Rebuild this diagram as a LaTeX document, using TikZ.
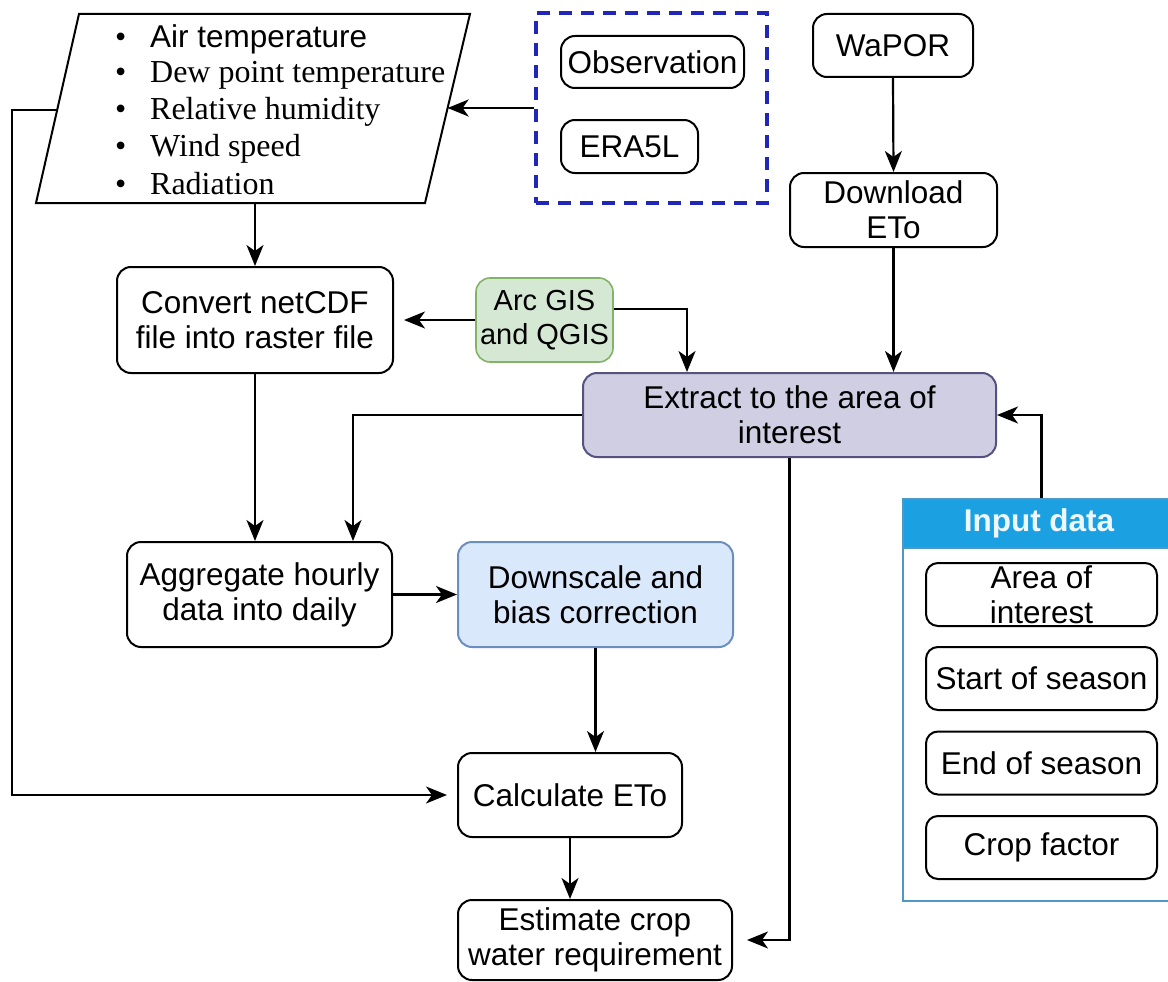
\documentclass[tikz,border=0pt]{standalone}
\usepackage{fontspec}
\setmainfont{Liberation Sans}
\newfontfamily\listserif{Liberation Serif}
\usetikzlibrary{arrows.meta,calc}

\definecolor{gisfill}{HTML}{D5E8D4}
\definecolor{gisdraw}{HTML}{82B366}
\definecolor{extfill}{HTML}{D0CEE2}
\definecolor{extdraw}{HTML}{56517E}
\definecolor{dsfill}{HTML}{DAE8FC}
\definecolor{dsdraw}{HTML}{6C8EBF}
\definecolor{srcblue}{HTML}{2027B8}
\definecolor{hdrblue}{HTML}{1BA1E2}
\definecolor{panelline}{HTML}{4F97C6}
\definecolor{hdrtext}{HTML}{EEF7FC}

\newcommand\boxfont{\fontsize{31.5}{35}\selectfont}
\newcommand\listfont{\fontsize{32}{35}\selectfont}
\newcommand\gisfont{\fontsize{29}{34}\selectfont}

\begin{document}
\begin{tikzpicture}[x=1pt,y=-1pt,
  box/.style={draw=black, line width=2pt, rounded corners=14pt,
    align=center, inner sep=0pt, font=\boxfont, text=black},
  inbox/.style={box, rounded corners=12pt, minimum width=231pt, minimum height=63pt},
  listitem/.style={anchor=base west, inner sep=0pt, font=\listfont, text=black},
  link/.style={line width=2.2pt, draw=black},
  flow/.style={link, -{Stealth[length=21pt,width=17pt,inset=6pt]}}
]
\useasboundingbox (0,0) rectangle (1168,982);
\fill[white] (0,0) rectangle (1168,982);

% input variables (parallelogram)
\coordinate (pTL) at (79,14);
\coordinate (pTR) at (470,14);
\coordinate (pBR) at (425,203);
\coordinate (pBL) at (36,203);
\draw[line width=2pt] (pTL) -- (pTR) -- (pBR) -- (pBL) -- cycle;
\coordinate (pR) at (447.6,108);
\coordinate (pL) at (57,110);
\coordinate (pB) at (255,203);

\node[listitem] (v1) at (115,48) {\listserif\makebox[35pt][l]{\textbullet}{\boxfont\rmfamily Air temperature}};
\node[listitem] (v2) at (115,83) {\listserif\makebox[35pt][l]{\textbullet}Dew point temperature};
\node[listitem] (v3) at (115,119) {\listserif\makebox[35pt][l]{\textbullet}Relative humidity};
\node[listitem] (v4) at (115,156) {\listserif\makebox[35pt][l]{\textbullet}Wind speed};
\node[listitem] (v5) at (115,194) {\listserif\makebox[35pt][l]{\textbullet}Radiation};

% data sources
\node[draw=srcblue, line width=4pt, dash pattern=on 13pt off 9pt,
      minimum width=231pt, minimum height=190pt, inner sep=0pt] (src) at (651.5,108) {};
\node[box, minimum width=183pt, minimum height=52pt] (obs) at (652.5,62) {Observation};
\node[box, minimum width=137pt, minimum height=53pt] (era) at (629.5,146.5) {ERA5L};

\node[box, minimum width=160pt, minimum height=63pt] (wapor) at (893,45.5) {WaPOR};
\node[box, minimum width=207pt, minimum height=74pt] (dl) at (893.5,210) {Download\\ETo};

% processing steps
\node[box, minimum width=276pt, minimum height=106pt] (conv) at (255,320)
  {Convert netCDF\\file into raster file};
\node[box, fill=gisfill, draw=gisdraw, line width=1.6pt, font=\gisfont,
      minimum width=137pt, minimum height=84pt] (gis) at (544.5,320) {Arc GIS\\and QGIS};
\node[box, fill=extfill, draw=extdraw, line width=2pt,
      minimum width=413pt, minimum height=84pt] (ext) at (789.5,415)
  {Extract to the area of\\interest};
\node[box, minimum width=265pt, minimum height=105pt] (agg) at (259.5,594.5)
  {Aggregate hourly\\data into daily};
\node[box, fill=dsfill, draw=dsdraw, line width=2pt,
      minimum width=275pt, minimum height=105pt] (ds) at (595.5,594.5)
  {Downscale and\\bias correction};
\node[box, minimum width=224pt, minimum height=84pt] (calc) at (570,795) {Calculate ETo};
\node[box, minimum width=274pt, minimum height=80pt] (est) at (595,940)
  {Estimate crop\\water requirement};

% input data panel
\node[draw=panelline, line width=2pt, minimum width=272pt, minimum height=402pt,
      inner sep=0pt] (panel) at (1039,700) {};
\node[fill=hdrblue, draw=panelline, line width=2pt, minimum width=272pt,
      minimum height=49pt, inner sep=0pt, text=hdrtext, font=\boxfont\bfseries]
      (hdr) at (1039,523.5) {Input data};
\node[inbox] (area) at (1041.5,594.5) {Area of\\interest};
\node[inbox] (sos) at (1041.5,678.5) {Start of season};
\node[inbox] (eos) at (1041.5,763) {End of season};
\node[inbox] (crop) at (1041.5,847.5) {Crop factor};

% connectors
\draw[flow] (src.west |- pR) -- (pR);
\draw[flow, shorten >=10pt] (pL) -- ++(-45,0) |- (calc.west);
\draw[flow] (pB) -- (pB |- conv.north);
\draw[flow, shorten >=10pt] (gis.west) -- (conv.east);
\draw[flow] ([yshift=11pt]gis.east) -| ([xshift=-102.5pt]ext.north);
\draw[flow] (wapor.south) -- (dl.north);
\draw[flow] (dl.south) -- (dl.south |- ext.north);
\draw[flow] (ext.west) -| ([xshift=93.5pt]agg.north);
\draw[flow] (conv.south) -- (conv.south |- agg.north);
\draw[flow] (agg.east) -- (ds.west);
\draw[flow] (ds.south) -- (ds.south |- calc.north);
\draw[flow] (calc.south) -- (calc.south |- est.north);
\draw[flow, shorten >=14pt] (ext.south) |- (est.east);
\draw[flow] (area.north |- hdr.north) |- (ext.east);
\end{tikzpicture}
\end{document}
